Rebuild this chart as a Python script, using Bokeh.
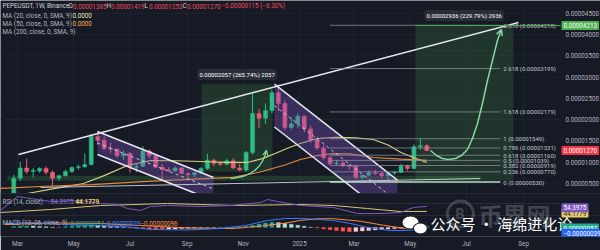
import numpy as np
import pandas as pd
from bokeh.plotting import figure
from bokeh.models import Range1d, FixedTicker, PrintfTickFormatter, Label, Arrow, OpenHead
from bokeh.core.properties import value
from bokeh.embed import file_html
from bokeh.resources import INLINE

U = 1e-8  # price unit (0.00000001 USDT)

# ---------------- data ----------------
WEEK0 = pd.Timestamp("2024-02-26")   # first weekly bar (Binance PEPEUSDT, 1W)
opens = [200, 620, 860, 780, 790, 850, 760, 620, 680, 780, 870, 890, 940, 1600, 1510, 1320, 1300, 1150,
         1200, 880, 900, 1260, 1150, 880, 820, 790, 860, 730, 700, 750, 850, 1040, 970, 950, 1030, 860,
         810, 1225, 2140, 2030, 2210, 2630, 2380, 1813, 1900, 2080, 1780, 1520, 1330, 1100, 960, 980,
         920, 900, 640, 690, 750, 730, 680, 740, 760, 900, 850, 1360, 1385]
highs = [700, 1000, 1080, 860, 880, 900, 800, 700, 820, 900, 940, 1200, 1660, 1720, 1600, 1450, 1330, 1280,
         1240, 960, 1380, 1300, 1180, 960, 880, 900, 880, 760, 780, 880, 1200, 1080, 1000, 1080, 1090, 960,
         1260, 2613, 2250, 2380, 2700, 2831, 2450, 2050, 2150, 2100, 1850, 1600, 1400, 1150, 1050, 1020,
         960, 940, 700, 800, 820, 760, 760, 790, 960, 940, 1420, 1549, 1419]
lows = [180, 560, 720, 640, 740, 700, 440, 560, 660, 740, 820, 860, 920, 1400, 1280, 1200, 1100, 1050,
        750, 760, 880, 1080, 860, 580, 760, 770, 720, 640, 660, 720, 820, 900, 910, 930, 830, 780,
        770, 1180, 1800, 1900, 2150, 2200, 1750, 1760, 1800, 1700, 1450, 1280, 1050, 930, 920, 880,
        820, 600, 590, 680, 700, 620, 530, 700, 740, 800, 820, 1290, 1253]
closes = [620, 860, 780, 790, 850, 760, 620, 680, 780, 870, 890, 940, 1600, 1510, 1320, 1300, 1150, 1200,
          880, 900, 1260, 1150, 880, 820, 790, 860, 730, 700, 750, 850, 1040, 970, 950, 1030, 860, 810,
          1225, 2140, 2030, 2210, 2630, 2380, 1813, 1900, 2080, 1780, 1520, 1330, 1100, 960, 980, 920,
          900, 640, 690, 750, 730, 680, 740, 760, 900, 850, 1360, 1385, 1270]

month_ticks = ["2024-03-01", "2024-05-01", "2024-07-01", "2024-09-01", "2024-11-01",
               "2025-01-01", "2025-03-01", "2025-05-01", "2025-07-01", "2025-09-01"]
month_labels = ["Mar", "May", "Jul", "Sep", "Nov", "2025", "Mar", "May", "Jul", "Sep"]
price_ticks = [500, 1000, 1500, 2000, 2500, 3000, 3500, 4000, 4500]

# moving averages (week index, price)
ma20_w = [-2.06, 2.1, 6, 10.8, 14, 17.6, 21.2, 25, 29, 33, 36.2, 38.5, 40.5, 42.5, 44.4, 47, 50, 53, 55.7, 58, 60, 62, 64]
ma20_p = [150, 260, 370, 495, 680, 919, 1036, 1030, 1013, 990, 990, 1080, 1200, 1330, 1436, 1554, 1580, 1570, 1530, 1400, 1225, 1100, 990]
ma50_w = [-2.06, 5, 12, 20, 28, 34, 38, 42, 44.4, 47, 49.5, 52, 55.7, 60, 64]
ma50_p = [380, 430, 470, 540, 600, 640, 760, 930, 1060, 1150, 1200, 1190, 1107, 1070, 1040]

# RSI pane
rsi_w = [-2.06, 0.57, 2.59, 5.69, 10.33, 13.43, 16.07, 17.62, 19.63, 21.18, 23.81, 28.93, 33.58, 38.22,
         39.31, 40.86, 44.42, 49.54, 53.25, 56.82, 59.92, 61.93, 64]
rsi_v = [46, 74, 70, 64, 66, 60, 58, 50, 46, 54, 56, 54, 56, 62, 68, 64, 56, 52, 40, 40, 42, 52, 54.3975]
rsima_w = [-2.06, 5.69, 13.43, 23.81, 34.04, 44.42, 49.54, 54.8, 59.92, 64]
rsima_v = [42, 48, 56, 60, 56, 58, 56, 50, 44, 44.1779]
RSI_MID = 60

# MACD pane (units of 1e-8)
macd_w = [-1.29, 2.59, 8.32, 13.43, 17.62, 21.18, 26.91, 32.03, 35.9, 39.31, 42.1, 44.42, 47, 49.54,
          52.17, 54.8, 58.37, 60.69, 62.7, 64]
macd_v = [183, 230, 136, 89, 19, -99, -122, -52, 89, 324, 418, 418, 380, 324, 183, -5, -146, -146, -99, -39]
sig_w = [-1.29, 5.69, 13.43, 19.63, 26.91, 34.04, 38.22, 42.1, 44.42, 47, 49.54, 53.72, 57.28, 60.69, 64]
sig_v = [136, 207, 183, 89, -28, -52, 60, 200, 330, 400, 410, 290, 100, -52, -96]
hist = [40, 60, 70, 60, 45, 30, 10, -10, 30, 50, 70, 90, 110, 95, 70, 45, 25, 5,
        -20, -45, -60, -75, -90, -95, -85, -70, -55, -40, -30, -20, -10, -5, 5, 10, 15, 20,
        40, 100, 160, 210, 240, 230, 200, 150, 100, 50, 10,
        -30, -70, -110, -150, -180, -200, -190, -170, -150, -120, -100, -80, -60, -40,
        -10, 20, 45, 57]

# drawings (week index, price)
trend_w = [0.73, 78.2]; trend_p = [1177, 4284]
support_w = [4.14, 72.3]; support_p = [401, 613]
chanA_w = [12.97, 30.94]; chanA_up = [1719, 636]; chanA_lo = [1178, 95]
chanB_w = [40.39, 59.45]; chanB_up = [2832, 575]; chanB_lo = [1825, -432]
box1_w = [29.08, 40.08]; box1_p = [774, 2831]
box2_w = [62.24, 77.4]; box2_p = [560, 4213]
band_w = [-1.0, 72.3]; band_p = [560, 680]
fib_levels = ["0", "0.236", "0.382", "0.5", "0.618", "0.786", "1", "1.618", "2.618", "3.618"]
fib_prices = [530, 770, 919, 1039, 1160, 1331, 1549, 2179, 3199, 4218]
fib_w = [49.0, 75.4]
arrow1 = dict(x0=33.58, y0=613, cx0=36.67, cy0=636, cx1=38.53, cy1=848, x1=39.15, y1=1272)
proj_w = [64.56, 65.49, 66.42, 67.35, 68.43, 69.37, 70.30, 71.07, 71.85, 72.62, 73.40, 74.17, 74.94, 75.56]
proj_p = [1272, 1154, 1084, 1060, 1084, 1154, 1295, 1554, 1907, 2378, 2919, 3389, 3860, 4119]

# ---------------- style ----------------
BG = "#161a25"
GRID = "#1f2330"
TXT = "#b2b5be"
UP = "#2dbd85"
DN = "#ef5a78"
WHITE = "#e6e8ee"
GREEN = "#4caf50"
FONT = "Roboto"
FS = "6.3px"

X0, X1, XR = -2.06, 84.71, 90.91      # left edge, chart/price-scale boundary, right edge
P_BOT, P_TOP = -752, 4801
PANE_P = 260

p = figure(width=600, height=250, x_range=Range1d(X0, XR), y_range=Range1d(P_BOT * U, P_TOP * U),
           output_backend="svg", toolbar_location=None, y_axis_location="right",
           min_border_left=0, min_border_top=0, min_border_right=0, min_border_bottom=14,
           background_fill_color=BG, border_fill_color=BG, outline_line_color=None)
p.extra_y_ranges = {"rsi": Range1d(-6, 466), "macd": Range1d(-428 * U, 10664 * U)}
p.xgrid.visible = False
p.ygrid.visible = False

tick_w = [round((pd.Timestamp(d) - WEEK0).days / 7, 4) for d in month_ticks]
for ax in (p.xaxis[0], p.yaxis[0]):
    ax.axis_line_color = None
    ax.major_tick_line_color = None
    ax.minor_tick_line_color = None
    ax.major_tick_out = 0
    ax.major_tick_in = 0
    ax.minor_tick_out = 0
    ax.minor_tick_in = 0
    ax.major_label_text_color = TXT
    ax.major_label_text_font = FONT
    ax.major_label_text_font_size = FS
p.xaxis.ticker = FixedTicker(ticks=tick_w)
p.xaxis.major_label_overrides = {t: s for t, s in zip(tick_w, month_labels)}
p.xaxis.major_label_standoff = 3
p.yaxis.ticker = FixedTicker(ticks=[t * U for t in price_ticks])
p.yaxis.formatter = PrintfTickFormatter(format="%.8f")
p.yaxis.major_label_standoff = 5
p.yaxis.fixed_location = X1

# grid (main pane)
p.segment(x0=tick_w, y0=[PANE_P * U] * len(tick_w), x1=tick_w, y1=[P_TOP * U] * len(tick_w),
          line_color=GRID, line_width=1)
p.segment(x0=[X0] * len(price_ticks), y0=[t * U for t in price_ticks], x1=[X1] * len(price_ticks),
          y1=[t * U for t in price_ticks], line_color=GRID, line_width=1)

# boxes / fills
p.quad(left=[box1_w[0], box2_w[0]], right=[box1_w[1], box2_w[1]],
       bottom=[box1_p[0] * U, box2_p[0] * U], top=[box1_p[1] * U, box2_p[1] * U],
       fill_color=GREEN, fill_alpha=0.18, line_alpha=0)
p.quad(left=[band_w[0]], right=[band_w[1]], bottom=[band_p[0] * U], top=[band_p[1] * U],
       fill_color=GREEN, fill_alpha=0.22, line_alpha=0)

# candles
w = np.arange(len(opens))
o = np.array(opens, float); h = np.array(highs, float); l = np.array(lows, float); c = np.array(closes, float)
col = np.where(c >= o, UP, DN)
top = np.maximum(o, c); bot = np.minimum(o, c)
top = np.where(top - bot < 20, bot + 20, top)
p.segment(x0=w, y0=l * U, x1=w, y1=h * U, line_color=col, line_width=1)
p.vbar(x=w, width=0.62, top=top * U, bottom=bot * U, fill_color=col, line_color=col, line_width=0.5)

# moving averages
p.line(ma20_w, [v * U for v in ma20_p], line_color="#d4cf7a", line_width=1.2)
p.line(ma50_w, [v * U for v in ma50_p], line_color="#e08a3c", line_width=1.2)

# descending channels
for cw, cu, cl in ((chanA_w, chanA_up, chanA_lo), (chanB_w, chanB_up, chanB_lo)):
    p.patch([cw[0], cw[1], cw[1], cw[0]], [cu[0] * U, cu[1] * U, cl[1] * U, cl[0] * U],
            fill_color="#7e57c2", fill_alpha=0.35, line_alpha=0)
    p.line(cw, [v * U for v in cu], line_color=WHITE, line_width=1.5)
    p.line(cw, [v * U for v in cl], line_color=WHITE, line_width=1.5)
    p.line(cw, [(a + b) / 2 * U for a, b in zip(cu, cl)], line_color=WHITE, line_width=1,
           line_dash="3 3", line_alpha=0.8)

# trend and support lines
p.line(trend_w, [v * U for v in trend_p], line_color=WHITE, line_width=1.5)
p.line(support_w, [v * U for v in support_p], line_color=WHITE, line_width=1.2, line_alpha=0.8)

# fibonacci extension
n = len(fib_prices)
p.segment(x0=[fib_w[0]] * n, y0=[v * U for v in fib_prices], x1=[fib_w[1]] * n, y1=[v * U for v in fib_prices],
          line_color=["#c8f0d0"] + ["#9598a1"] * (n - 1), line_width=[1.6] + [1] * (n - 1),
          line_alpha=[0.9] + [0.7] * (n - 1))
fib_text = [f"{lv} ({v * U:.8f})" for lv, v in zip(fib_levels, fib_prices)]
p.text(x=[fib_w[1] + 0.45] * n, y=[v * U for v in fib_prices], text=fib_text,
       text_font=value(FONT), text_font_size=value("6px"), text_color="#c3c6ce",
       text_align="left", text_baseline="middle")
p.segment(x0=[box2_w[0]], y0=[box2_p[1] * U], x1=[X1], y1=[box2_p[1] * U], line_color=GREEN, line_width=1)

# green arrows
G2 = "#86d69e"
p.bezier(x0=[arrow1["x0"]], y0=[arrow1["y0"] * U], x1=[arrow1["x1"]], y1=[arrow1["y1"] * U],
         cx0=[arrow1["cx0"]], cy0=[arrow1["cy0"] * U], cx1=[arrow1["cx1"]], cy1=[arrow1["cy1"] * U],
         line_color=G2, line_width=1.3)
p.add_layout(Arrow(end=OpenHead(size=5, line_color=G2, line_width=1.3), line_alpha=0,
                   x_start=arrow1["cx1"], y_start=arrow1["cy1"] * U, x_end=arrow1["x1"], y_end=arrow1["y1"] * U))
p.line(proj_w, [v * U for v in proj_p], line_color=G2, line_width=1.5)
p.add_layout(Arrow(end=OpenHead(size=6, line_color=G2, line_width=1.5), line_alpha=0,
                   x_start=proj_w[-2], y_start=proj_p[-2] * U, x_end=proj_w[-1], y_end=proj_p[-1] * U))

# mask below main pane
p.quad(left=[X0], right=[XR], bottom=[P_BOT * U], top=[PANE_P * U], fill_color=BG, line_alpha=0)

# lower panes grid & separators
p.segment(x0=tick_w, y0=[-6] * len(tick_w), x1=tick_w, y1=[80] * len(tick_w),
          line_color=GRID, line_width=1, y_range_name="rsi")
p.segment(x0=[X0, X0], y0=[80, 36], x1=[XR, XR], y1=[80, 36], line_color="#262a36", line_width=1, y_range_name="rsi")
p.segment(x0=[X0], y0=[RSI_MID], x1=[X1], y1=[RSI_MID], line_color="#787b86", line_alpha=0.6,
          line_dash="1 2", y_range_name="rsi")

# RSI
p.line(rsima_w, rsima_v, line_color="#d9c27a", line_width=1, y_range_name="rsi")
p.line(rsi_w, rsi_v, line_color="#7e57c2", line_width=1, y_range_name="rsi")

# MACD
hv = np.array(hist, float)
prev = np.concatenate([[hv[0]], hv[:-1]])
hcol = np.where(hv >= 0, np.where(hv >= prev, "#26a69a", "#b2dfdb"), np.where(hv <= prev, "#ff5252", "#ffcdd2"))
p.vbar(x=w, width=0.6, top=hv * U, bottom=0, fill_color=hcol, line_color=hcol, line_width=0.3, y_range_name="macd")
p.line(sig_w, [v * U for v in sig_v], line_color="#ff8a3c", line_width=1, y_range_name="macd")
p.line(macd_w, [v * U for v in macd_v], line_color="#3b78ff", line_width=1, y_range_name="macd")

# watermark logo and chat icon
p.circle(x=[69.2], y=[630 * U], radius=13, radius_units="screen", fill_alpha=0, line_color="#ffffff",
         line_alpha=0.18, line_width=3, y_range_name="macd")
p.ellipse(x=[61.47], y=[230 * U], width=17, height=13, width_units="screen", height_units="screen",
          fill_color="#ffffff", line_color=BG, line_width=1, y_range_name="macd")
p.ellipse(x=[63.0], y=[-52 * U], width=14, height=11, width_units="screen", height_units="screen",
          fill_color="#ffffff", line_color=BG, line_width=1.2, y_range_name="macd")


def lab(x, y, text, color=TXT, size=FS, units="screen", **kw):
    kw.setdefault("text_baseline", "middle")
    p.add_layout(Label(x=x, y=y, x_units=units, y_units=units, text=text, text_color=color,
                       text_font=kw.pop("font", FONT), text_font_size=size, **kw))


# measurement labels (data space)
p.add_layout(Label(x=34.6, y=3060 * U, text="0.00002057 (265.74%) 2057", text_color="#ffffff",
                   text_font=FONT, text_font_size="6px", text_align="center", text_baseline="middle",
                   background_fill_color="#2a2e39", background_fill_alpha=0.95, padding=2, border_radius=2))
p.add_layout(Label(x=69.8, y=4448 * U, text="0.00002936 (229.79%) 2936", text_color="#ffffff",
                   text_font=FONT, text_font_size="6px", text_align="center", text_baseline="middle",
                   background_fill_color="#2a2e39", background_fill_alpha=0.95, padding=2, border_radius=2))

# legend (top left)
RED = "#f2495c"
lab(2, 230.3, "PEPEUSDT, 1W, Binance", "#d1d4dc")
for xx, letter, num in ((68, "O", "0.00001385"), (106, "H", "0.00001419"), (144, "L", "0.00001253"), (182, "C", "0.00001270")):
    lab(xx, 230.3, letter, "#d1d4dc")
    lab(xx + 4.5, 230.3, num, RED)
lab(221, 230.3, "\u22120.00000115 (\u22128.30%)", RED)
lab(2, 221, "MA (20, close, 0, SMA, 9)")
lab(72, 221, "0.0000", "#eae6b0")
lab(2, 212.7, "MA (50, close, 0, SMA, 9)")
lab(72, 212.7, "0.0000", "#ffae5c")
lab(2, 204.3, "MA (200, close, 0, SMA, 9)")

# pane legends
lab(2, 35, "RSI (14, close)")
lab(50, 35, "54.3975", "#9575cd")
lab(75, 35, "44.1779", "#f0d060", text_font_style="bold")
lab(2, 13.3, "MACD (12, 26, close, 9)")
lab(70, 13.3, "0.00000057", "#26a69a")
lab(103, 13.3, "\u22120.00000039", "#4c84ff")
lab(140, 13.3, "\u22120.00000096", "#ff8a3c")

# watermark texts
lab(455, 22.5, "B", "#ffffff", "14px", text_alpha=0.2, text_font_style="bold")
lab(478, 22.5, "币界网", "#ffffff", "24px", font="Noto Sans CJK SC", text_alpha=0.2, text_font_style="bold")
lab(430, 12.7, "公众号 · 海绵进化论", "#ffffff", "15px", font="Noto Sans CJK SC")

# value tags on the right scale
def tag(y, text, bg, fg="#ffffff", units="data"):
    p.add_layout(Label(x=561, y=y, x_units="screen", y_units=units, text=text, text_color=fg,
                       text_font=FONT, text_font_size=FS, text_baseline="middle",
                       background_fill_color=bg, padding=2, border_radius=1))

tag(4213 * U, "0.00004213", "#4caf50")
tag(1270 * U, "0.00001270", "#f23645")
tag(23.5, "44.1779", "#e6cf6a", "#161a25", "screen")
tag(28.8, "54.3975", "#7e57c2", units="screen")
tag(8.5, "0.00000057", "#22ab94", units="screen")
tag(3, "\u22120.00000039", "#2962ff", units="screen")

open("out.html", "w").write(file_html(p, INLINE))
